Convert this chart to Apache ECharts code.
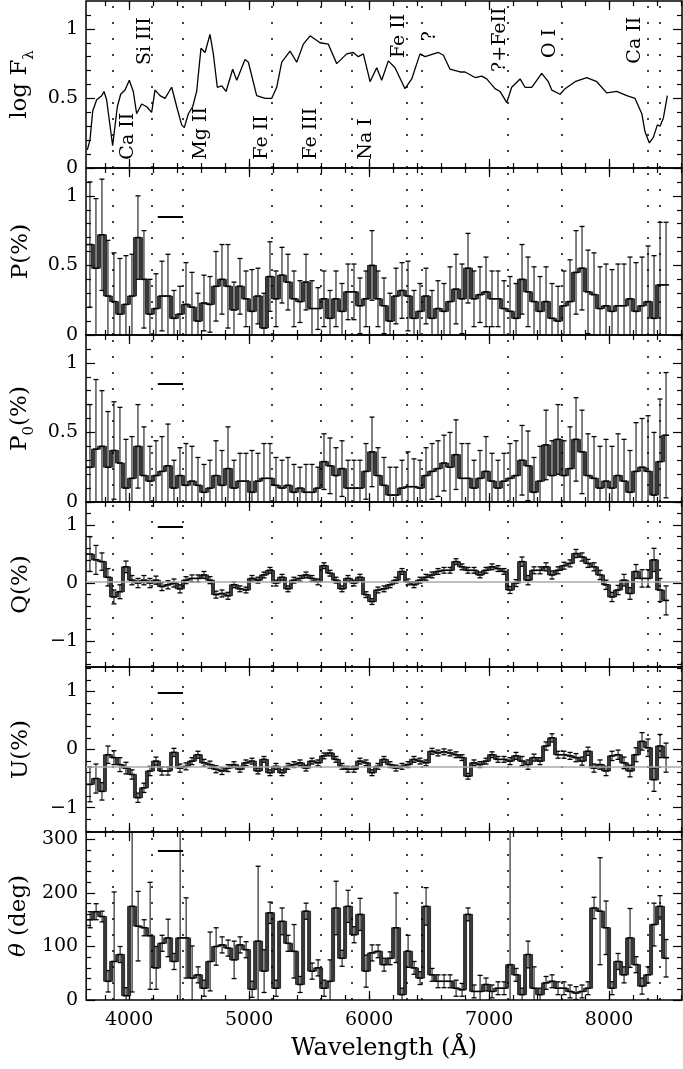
<!DOCTYPE html>
<html>
<head>
<meta charset="utf-8">
<script src="https://cdn.jsdelivr.net/npm/echarts@6/dist/echarts.min.js"></script>
<style>
  html, body { margin: 0; background: #fff; }
  #chart { width: 683px; height: 1069px; }
</style>
</head>
<body>
<div id="chart"></div>
<script>
// binned polarimetry: 50 A bins starting at 3650 A
const binStart = 3650;
const binWidth = 50;

// flux spectrum (log F_lambda)
const fluxWave = [3653, 3675, 3698, 3731, 3773, 3792, 3814, 3864, 3903, 3931, 3967, 4003, 4036, 4064, 4106, 4148, 4189, 4217, 4259, 4300,
  4356, 4398, 4439, 4461, 4495, 4531, 4564, 4600, 4634, 4675, 4703, 4736, 4773, 4809, 4864, 4898, 4967, 4995, 5064, 5134,
  5189, 5231, 5273, 5342, 5398, 5453, 5509, 5592, 5661, 5731, 5814, 5869, 5911, 5953, 6009, 6064, 6106, 6161, 6217, 6300,
  6356, 6425, 6467, 6578, 6620, 6675, 6759, 6800, 6884, 6939, 6981, 7050, 7092, 7148, 7189, 7259, 7300, 7356, 7439, 7494,
  7523, 7592, 7634, 7717, 7814, 7898, 7981, 8064, 8148, 8217, 8273, 8300, 8336, 8369, 8403, 8425, 8453, 8486];
const fluxLog = [0.13, 0.20, 0.41, 0.49, 0.52, 0.55, 0.49, 0.16, 0.44, 0.53, 0.56, 0.63, 0.55, 0.39, 0.46, 0.44, 0.40, 0.56, 0.52, 0.50,
  0.58, 0.44, 0.31, 0.29, 0.39, 0.44, 0.55, 0.86, 0.83, 0.96, 0.82, 0.58, 0.59, 0.55, 0.71, 0.63, 0.78, 0.76, 0.52, 0.50,
  0.50, 0.58, 0.76, 0.84, 0.76, 0.89, 0.95, 0.90, 0.89, 0.75, 0.82, 0.83, 0.80, 0.82, 0.62, 0.72, 0.63, 0.77, 0.72, 0.57,
  0.64, 0.82, 0.80, 0.83, 0.81, 0.71, 0.69, 0.69, 0.65, 0.66, 0.64, 0.57, 0.55, 0.47, 0.58, 0.64, 0.58, 0.58, 0.68, 0.62,
  0.56, 0.53, 0.57, 0.62, 0.65, 0.62, 0.54, 0.55, 0.52, 0.50, 0.39, 0.26, 0.18, 0.22, 0.31, 0.30, 0.36, 0.52];

const polP = [0.65, 0.48, 0.72, 0.28, 0.24, 0.15, 0.22, 0.28, 0.70, 0.40,
  0.15, 0.19, 0.28, 0.28, 0.12, 0.15, 0.22, 0.20, 0.10, 0.23,
  0.22, 0.35, 0.40, 0.35, 0.18, 0.35, 0.26, 0.17, 0.28, 0.05,
  0.42, 0.26, 0.43, 0.38, 0.26, 0.24, 0.38, 0.19, 0.19, 0.26,
  0.12, 0.26, 0.17, 0.31, 0.31, 0.21, 0.26, 0.50, 0.26, 0.21,
  0.10, 0.28, 0.32, 0.28, 0.12, 0.17, 0.28, 0.12, 0.19, 0.17,
  0.24, 0.33, 0.26, 0.48, 0.26, 0.29, 0.31, 0.26, 0.26, 0.19,
  0.17, 0.12, 0.40, 0.31, 0.24, 0.17, 0.24, 0.12, 0.10, 0.21,
  0.24, 0.45, 0.48, 0.31, 0.29, 0.19, 0.21, 0.17, 0.21, 0.21,
  0.26, 0.17, 0.21, 0.24, 0.12, 0.36, 0.36];
const polP0 = [0.25, 0.38, 0.40, 0.25, 0.37, 0.28, 0.10, 0.17, 0.40, 0.19,
  0.15, 0.19, 0.22, 0.26, 0.10, 0.19, 0.12, 0.15, 0.12, 0.07,
  0.10, 0.19, 0.12, 0.24, 0.10, 0.15, 0.15, 0.07, 0.15, 0.17,
  0.17, 0.12, 0.10, 0.12, 0.07, 0.10, 0.07, 0.07, 0.10, 0.29,
  0.26, 0.19, 0.24, 0.10, 0.10, 0.10, 0.22, 0.36, 0.19, 0.12,
  0.05, 0.05, 0.10, 0.11, 0.11, 0.10, 0.19, 0.22, 0.24, 0.28,
  0.25, 0.34, 0.17, 0.17, 0.10, 0.17, 0.22, 0.15, 0.10, 0.15,
  0.17, 0.19, 0.30, 0.26, 0.07, 0.15, 0.41, 0.19, 0.45, 0.19,
  0.24, 0.45, 0.36, 0.19, 0.17, 0.10, 0.15, 0.10, 0.19, 0.15,
  0.07, 0.22, 0.25, 0.22, 0.05, 0.29, 0.48];
const polQ = [0.50, 0.40, 0.37, 0.10, -0.24, -0.15, 0.28, 0.05, 0.00, 0.05,
  0.00, 0.05, -0.06, -0.03, 0.00, -0.10, 0.05, 0.08, 0.08, 0.14,
  0.05, -0.20, -0.18, -0.22, -0.03, -0.10, -0.12, 0.08, 0.05, 0.14,
  0.22, 0.00, 0.10, -0.10, 0.05, 0.08, 0.14, 0.08, 0.02, 0.30,
  0.17, 0.05, -0.10, 0.08, 0.00, 0.10, -0.20, -0.32, -0.12, -0.10,
  -0.03, 0.05, 0.20, 0.02, -0.03, 0.05, 0.10, 0.14, 0.20, 0.22,
  0.22, 0.37, 0.28, 0.22, 0.22, 0.14, 0.22, 0.28, 0.25, 0.20,
  -0.12, 0.00, 0.37, 0.05, 0.22, 0.22, 0.28, 0.14, 0.22, 0.30,
  0.34, 0.51, 0.45, 0.34, 0.28, 0.14, -0.03, -0.24, -0.12, 0.05,
  -0.18, 0.20, 0.08, 0.08, 0.40, -0.12, -0.30];
const polU = [-0.60, -0.50, -0.72, -0.09, -0.14, -0.26, -0.32, -0.43, -0.83, -0.66,
  -0.37, -0.20, -0.37, -0.37, -0.05, -0.32, -0.29, -0.20, -0.09, -0.23,
  -0.26, -0.34, -0.37, -0.32, -0.26, -0.34, -0.23, -0.20, -0.37, -0.17,
  -0.40, -0.29, -0.40, -0.29, -0.26, -0.23, -0.32, -0.20, -0.23, -0.11,
  -0.06, -0.17, -0.29, -0.34, -0.34, -0.20, -0.23, -0.40, -0.29, -0.17,
  -0.26, -0.32, -0.29, -0.26, -0.17, -0.20, -0.23, -0.03, -0.06, -0.04,
  -0.06, -0.09, -0.14, -0.46, -0.23, -0.26, -0.20, -0.09, -0.17, -0.17,
  -0.20, -0.11, -0.20, -0.26, -0.14, -0.20, 0.06, 0.20, -0.09, -0.09,
  -0.11, -0.14, -0.20, -0.03, -0.32, -0.26, -0.37, -0.11, -0.09, -0.23,
  -0.37, -0.09, 0.14, 0.03, -0.52, 0.06, -0.14];
const polTheta = [150, 165, 156, 35, 72, 85, 8, 175, 138, 135,
  120, 60, 106, 116, 72, 116, 116, 41, 47, 22,
  72, 100, 103, 97, 75, 103, 94, 20, 110, 54,
  163, 22, 147, 106, 91, 29, 166, 54, 60, 22,
  35, 172, 78, 175, 122, 160, 54, 88, 91, 66,
  78, 135, 10, 91, 60, 41, 175, 47, 35, 35,
  35, 22, 19, 160, 16, 16, 29, 16, 22, 22,
  66, 47, 10, 85, 22, 10, 32, 35, 22, 22,
  16, 13, 16, 22, 172, 166, 135, 22, 72, 47,
  116, 66, 26, 47, 141, 175, 78];

const errP = [0.45, 0.50, 0.40, 0.40, 0.35, 0.40, 0.35, 0.30, 0.30, 0.35,
  0.25, 0.25, 0.25, 0.30, 0.20, 0.20, 0.30, 0.25, 0.20, 0.20,
  0.20, 0.25, 0.25, 0.30, 0.20, 0.20, 0.20, 0.30, 0.20, 0.25,
  0.25, 0.20, 0.20, 0.20, 0.20, 0.15, 0.20, 0.20, 0.15, 0.20,
  0.20, 0.20, 0.20, 0.20, 0.20, 0.20, 0.20, 0.25, 0.20, 0.20,
  0.20, 0.20, 0.20, 0.25, 0.20, 0.20, 0.20, 0.20, 0.20, 0.20,
  0.25, 0.25, 0.25, 0.25, 0.20, 0.20, 0.25, 0.20, 0.20, 0.20,
  0.25, 0.25, 0.25, 0.25, 0.25, 0.25, 0.25, 0.25, 0.25, 0.25,
  0.30, 0.30, 0.30, 0.30, 0.30, 0.30, 0.30, 0.30, 0.30, 0.30,
  0.30, 0.35, 0.35, 0.40, 0.45, 0.45, 0.45];
const errQU = [0.30, 0.25, 0.15, 0.15, 0.12, 0.12, 0.10, 0.08, 0.08, 0.08,
  0.08, 0.07, 0.07, 0.07, 0.07, 0.07, 0.06, 0.06, 0.06, 0.06,
  0.06, 0.06, 0.06, 0.06, 0.05, 0.05, 0.05, 0.05, 0.05, 0.05,
  0.05, 0.05, 0.05, 0.05, 0.05, 0.05, 0.05, 0.05, 0.05, 0.05,
  0.05, 0.05, 0.05, 0.05, 0.05, 0.05, 0.05, 0.05, 0.05, 0.05,
  0.05, 0.05, 0.05, 0.05, 0.05, 0.05, 0.05, 0.05, 0.05, 0.05,
  0.05, 0.05, 0.05, 0.05, 0.05, 0.05, 0.05, 0.05, 0.05, 0.05,
  0.06, 0.06, 0.08, 0.08, 0.06, 0.06, 0.07, 0.07, 0.06, 0.06,
  0.06, 0.07, 0.07, 0.07, 0.07, 0.08, 0.08, 0.08, 0.08, 0.10,
  0.10, 0.12, 0.15, 0.15, 0.20, 0.20, 0.25];
const errTheta = [15, 15, 10, 20, 130, 15, 15, 160, 65, 15,
  100, 40, 15, 35, 15, 200, 75, 60, 15, 15,
  55, 35, 15, 15, 35, 15, 15, 15, 140, 40,
  20, 15, 25, 15, 50, 15, 15, 15, 15, 15,
  40, 50, 15, 30, 15, 30, 30, 15, 12, 12,
  12, 65, 12, 30, 12, 12, 35, 12, 12, 12,
  12, 15, 12, 12, 12, 30, 12, 12, 12, 12,
  250, 12, 12, 25, 40, 12, 12, 12, 12, 12,
  12, 12, 12, 12, 20, 100, 50, 12, 15, 15,
  55, 15, 15, 15, 40, 20, 35];

// line identifications
const lineWaves = [3867, 4192, 4450, 5192, 5600, 5858, 6317, 6442, 7158, 7608, 8325, 8425];
const lineNames = ['Ca II', 'Si III', 'Mg II', 'Fe II', 'Fe III', 'Na I', 'Fe II', '?', '?+FeII', 'O I', 'Ca II'];
const lineLabelWave = [3992, 4134, 4600, 5109, 5517, 5975, 6250, 6508, 7092, 7508, 8217];
const lineLabelFlux = [0.06, 0.74, 0.06, 0.06, 0.06, 0.06, 0.79, 0.91, 0.69, 0.79, 0.75];

// scale bar (per panel, none in flux) and grey reference levels (Q and U)
const scaleBarWave = [4240, 4450];
const scaleBarLevel = [null, 0.85, 0.85, 0.97, 0.98, 279];
const refLevel = [null, null, null, 0.02, -0.29, null];

// ticks
const xMajor = [4000, 5000, 6000, 7000, 8000];
const xMinor = [3800, 4000, 4200, 4400, 4600, 4800, 5000, 5200, 5400, 5600, 5800, 6000, 6200, 6400, 6600, 6800, 7000, 7200, 7400, 7600, 7800, 8000, 8200, 8400, 8600];
const pMajor = [0, 0.5, 1];
const pMinor = [0.1, 0.2, 0.3, 0.4, 0.6, 0.7, 0.8, 0.9, 1.1];
const quMajor = [-1, 0, 1];
const quMinor = [-1.4, -1.2, -0.8, -0.6, -0.4, -0.2, 0.2, 0.4, 0.6, 0.8, 1.2, 1.4];
const thMajor = [0, 100, 200, 300];
const thMinor = [20, 40, 60, 80, 120, 140, 160, 180, 220, 240, 260, 280];

const SERIF = '"DejaVu Serif", serif';
const X_MIN = 3642, X_MAX = 8608;
const tops = [1, 168, 335, 502, 667, 832, 1000];

const panels = [
  { name: '{a|log F}{b|λ}', min: 0, max: 1.2, major: pMajor, minor: pMinor },
  { name: '{a|P(%)}', min: 0, max: 1.2, major: pMajor, minor: pMinor },
  { name: '{a|P}{b|0}{a|(%)}', min: 0, max: 1.2, major: pMajor, minor: pMinor },
  { name: '{a|Q(%)}', min: -1.45, max: 1.4, major: quMajor, minor: quMinor },
  { name: '{a|U(%)}', min: -1.42, max: 1.42, major: quMajor, minor: quMinor },
  { name: '{t|θ}{a| (deg)}', min: 0, max: 314, major: thMajor, minor: thMinor }
];

const nameRich = {
  a: { fontFamily: SERIF, fontSize: 23, lineHeight: 34, verticalAlign: 'middle', color: '#000' },
  b: { fontFamily: SERIF, fontSize: 15, lineHeight: 16, verticalAlign: 'bottom', color: '#000' },
  t: { fontFamily: SERIF, fontStyle: 'italic', fontSize: 23, lineHeight: 34, verticalAlign: 'middle', color: '#000' }
};
const tickStyle = { color: '#000', width: 1.2 };
const fmt = v => (v < 0 ? '\u2212' + (-v) : String(v));

const grids = [], xAxes = [], yAxes = [], series = [];

panels.forEach((p, i) => {
  grids.push({ left: 86, right: 1, top: tops[i], height: tops[i + 1] - tops[i],
    show: true, borderColor: '#000', borderWidth: 1.5, backgroundColor: 'transparent' });

  [['bottom', xMajor, 9], ['bottom', xMinor, 5], ['top', xMajor, 9], ['top', xMinor, 5]].forEach(([pos, vals, len], j) => {
    const labelled = i === 5 && j === 0;
    xAxes.push({
      type: 'value', gridIndex: i, position: pos, min: X_MIN, max: X_MAX,
      axisLine: { show: false, onZero: false }, splitLine: { show: false },
      axisTick: { show: true, inside: true, length: len, customValues: vals, lineStyle: tickStyle },
      axisLabel: { show: labelled, customValues: xMajor, formatter: v => String(v), margin: 11,
        fontFamily: SERIF, fontSize: 19, color: '#000' },
      name: labelled ? 'Wavelength (Å)' : '', nameLocation: 'middle', nameGap: 37,
      nameTextStyle: { fontFamily: SERIF, fontSize: 24, color: '#000' }
    });
  });
  [['left', p.major, 9], ['left', p.minor, 5], ['right', p.major, 9], ['right', p.minor, 5]].forEach(([pos, vals, len], j) => {
    const labelled = j === 0;
    yAxes.push({
      type: 'value', gridIndex: i, position: pos, min: p.min, max: p.max,
      axisLine: { show: false, onZero: false }, splitLine: { show: false },
      axisTick: { show: true, inside: true, length: len, customValues: vals, lineStyle: tickStyle },
      axisLabel: { show: labelled, customValues: p.major, formatter: fmt, margin: 8,
        fontFamily: SERIF, fontSize: 19, color: '#000' },
      name: labelled ? p.name : '', nameLocation: 'middle', nameRotate: 90, nameGap: 48,
      nameTextStyle: { rich: nameRich }
    });
  });

  // dotted line markers and grey reference level, under the data
  const marks = lineWaves.map(w => ({ xAxis: w }));
  if (refLevel[i] !== null) {
    marks.push({ yAxis: refLevel[i], lineStyle: { type: 'solid', color: '#aaa', width: 1.5 } });
  }
  series.push({
    type: 'line', xAxisIndex: i * 4, yAxisIndex: i * 4, data: [], z: 1,
    markLine: { silent: true, symbol: ['none', 'none'], label: { show: false }, animation: false,
      lineStyle: { color: '#000', type: [2, 14], width: 1.5 }, data: marks }
  });
  // scale bar
  if (scaleBarLevel[i] !== null) {
    series.push({
      type: 'line', xAxisIndex: i * 4, yAxisIndex: i * 4, data: [], z: 4,
      markLine: { silent: true, symbol: ['none', 'none'], label: { show: false }, animation: false,
        lineStyle: { color: '#000', type: 'solid', width: 2 },
        data: [[{ coord: [scaleBarWave[0], scaleBarLevel[i]] }, { coord: [scaleBarWave[1], scaleBarLevel[i]] }]] }
    });
  }
});

// flux panel
series.push({
  type: 'line', xAxisIndex: 0, yAxisIndex: 0, z: 3,
  data: fluxWave.map((w, k) => [w, fluxLog[k]]),
  showSymbol: false, smooth: false, lineStyle: { color: '#000', width: 1.3 }
});
series.push({
  type: 'custom', xAxisIndex: 0, yAxisIndex: 0, z: 5, silent: true,
  data: lineLabelWave.map((w, k) => [w, lineLabelFlux[k]]),
  renderItem: (params, api) => {
    const pt = api.coord([api.value(0), api.value(1)]);
    return { type: 'text', x: pt[0], y: pt[1], rotation: Math.PI / 2,
      style: { text: lineNames[params.dataIndex], fontFamily: SERIF, fontSize: 19, fill: '#000',
        align: 'left', verticalAlign: 'middle' } };
  }
});

function stepItem(params, api) {
  const lo = api.value(0), hi = api.value(1), v = api.value(2), e = api.value(3), pv = api.value(4);
  const a = api.coord([lo, v]), b = api.coord([hi, v]), c = api.coord([lo, pv]);
  const mx = (a[0] + b[0]) / 2;
  const t = api.coord([lo, v + e])[1], d = api.coord([lo, v - e])[1];
  const y0 = Math.min(a[1], c[1]), h = Math.abs(a[1] - c[1]);
  return { type: 'group', children: [
    { type: 'line', shape: { x1: mx, y1: t, x2: mx, y2: d }, style: { stroke: '#000', lineWidth: 1 } },
    { type: 'line', shape: { x1: mx - 2.5, y1: t, x2: mx + 2.5, y2: t }, style: { stroke: '#000', lineWidth: 1.3 } },
    { type: 'line', shape: { x1: mx - 2.5, y1: d, x2: mx + 2.5, y2: d }, style: { stroke: '#000', lineWidth: 1.3 } },
    { type: 'rect', shape: { x: a[0] - 1.5, y: y0, width: 3, height: h }, style: { fill: '#3a3a3a', stroke: '#000', lineWidth: 0.7 } },
    { type: 'line', shape: { x1: a[0], y1: a[1], x2: b[0], y2: b[1] }, style: { stroke: '#000', lineWidth: 1.6 } }
  ] };
}

const polSets = [[polP, errP], [polP0, errP], [polQ, errQU], [polU, errQU], [polTheta, errTheta]];
polSets.forEach(([vals, errs], k) => {
  const i = k + 1;
  series.push({
    type: 'custom', xAxisIndex: i * 4, yAxisIndex: i * 4, z: 3, clip: true, silent: true,
    encode: { x: [0, 1], y: 2 },
    data: vals.map((v, n) => [binStart + n * binWidth, binStart + (n + 1) * binWidth, v, errs[n], n ? vals[n - 1] : v]),
    renderItem: stepItem
  });
});

const chart = echarts.init(document.getElementById('chart'), null, { renderer: 'canvas' });
chart.setOption({
  animation: false,
  backgroundColor: '#fff',
  grid: grids,
  xAxis: xAxes,
  yAxis: yAxes,
  series: series
});
</script>
</body>
</html>
